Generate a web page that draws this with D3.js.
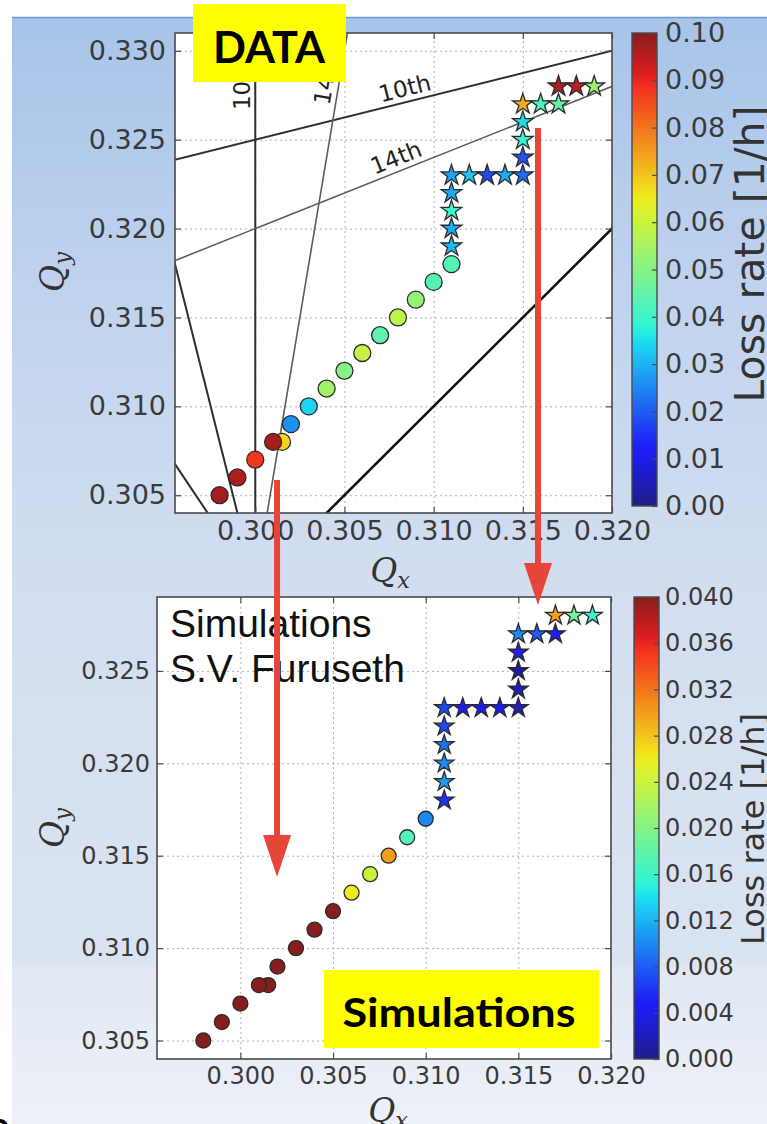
<!DOCTYPE html>
<html>
<head>
<meta charset="utf-8">
<script src="https://cdn.jsdelivr.net/npm/d3@7"></script>
<style>
  body { margin: 0; background: #fff; }
  svg { display: block; }
</style>
</head>
<body>
<svg id="chart" width="767" height="1124"></svg>
<script>
// ---- DATA ----
// measured tunes, round markers
const dataCircleQx   = [0.298, 0.299, 0.300, 0.3015, 0.301, 0.302, 0.303, 0.304, 0.305, 0.306, 0.307, 0.308, 0.309, 0.310, 0.311];
const dataCircleQy   = [0.305, 0.306, 0.307, 0.308, 0.308, 0.309, 0.310, 0.311, 0.312, 0.313, 0.314, 0.315, 0.316, 0.317, 0.318];
const dataCircleLoss = [0.097, 0.096, 0.088, 0.068, 0.097, 0.026, 0.034, 0.054, 0.050, 0.059, 0.044, 0.058, 0.052, 0.043, 0.043];
// measured tunes, star markers
const dataStarQx   = [0.311, 0.311, 0.311, 0.311, 0.311, 0.312, 0.313, 0.314, 0.315, 0.315, 0.315, 0.315, 0.315, 0.316, 0.317, 0.317, 0.318, 0.319];
const dataStarQy   = [0.319, 0.320, 0.321, 0.322, 0.323, 0.323, 0.323, 0.323, 0.323, 0.324, 0.325, 0.326, 0.327, 0.327, 0.327, 0.328, 0.328, 0.328];
const dataStarLoss = [0.031, 0.029, 0.040, 0.029, 0.028, 0.032, 0.018, 0.029, 0.022, 0.019, 0.039, 0.035, 0.073, 0.042, 0.045, 0.096, 0.094, 0.053];

// simulated tunes
const simCircleQx   = [0.298, 0.299, 0.300, 0.3015, 0.301, 0.302, 0.303, 0.304, 0.305, 0.306, 0.307, 0.308, 0.309, 0.310];
const simCircleQy   = [0.305, 0.306, 0.307, 0.308, 0.308, 0.309, 0.310, 0.311, 0.312, 0.313, 0.314, 0.315, 0.316, 0.317];
const simCircleLoss = [0.040, 0.040, 0.040, 0.040, 0.040, 0.040, 0.040, 0.040, 0.040, 0.026, 0.024, 0.030, 0.017, 0.010];
const simStarQx   = [0.311, 0.311, 0.311, 0.311, 0.311, 0.311, 0.312, 0.313, 0.314, 0.315, 0.315, 0.315, 0.315, 0.315, 0.316, 0.317, 0.317, 0.318, 0.319];
const simStarQy   = [0.318, 0.319, 0.320, 0.321, 0.322, 0.323, 0.323, 0.323, 0.323, 0.323, 0.324, 0.325, 0.326, 0.327, 0.327, 0.327, 0.328, 0.328, 0.328];
const simStarLoss = [0.006, 0.011, 0.010, 0.009, 0.007, 0.007, 0.005, 0.004, 0.004, 0.002, 0.002, 0.001, 0.005, 0.010, 0.008, 0.005, 0.030, 0.019, 0.016];

// resonance lines a*Qx + b*Qy = c
const resA     = [1, 1, 4, 3, 6, 2, 1];
const resB     = [0, -4, 1, 2, -1, -5, -1];
const resC     = [0.3, -1, 1.5, 1.5, 1.5, -1, 0];
const resOrder = [10, 10, 10, 10, 14, 14, 0];
// labels on resonance lines: which line, text, where along it (Qy for the vertical one, Qx otherwise)
const resLabelLine = [0, 1, 4, 5];
const resLabelText = ["10th", "10th", "14th", "14th"];
const resLabelAt   = [0.32815, 0.30857, 0.30472, 0.30818];

// ticks
const tuneTicksX  = [0.300, 0.305, 0.310, 0.315, 0.320];
const tuneTicksY  = [0.305, 0.310, 0.315, 0.320, 0.325, 0.330];
const dataCbTicks = d3.range(0, 0.1001, 0.01);
const simCbTicks  = d3.range(0, 0.0401, 0.004);

// ---- setup ----
const svg = d3.select("#chart");
const defs = svg.append("defs");

// page background (slide panel)
const bg = defs.append("linearGradient").attr("id", "bg").attr("x1", 0).attr("y1", 0).attr("x2", 0).attr("y2", 1);
[[0, "#a7c4e9"], [0.25, "#c0d3ee"], [0.5, "#d2def0"], [0.85, "#dae3f0"], [0.86, "#e1e8f3"], [1, "#edf1f8"]]
  .forEach(s => bg.append("stop").attr("offset", s[0]).attr("stop-color", s[1]));
svg.append("rect").attr("x", 12).attr("y", 17).attr("width", 755).attr("height", 1107).attr("fill", "url(#bg)");
svg.append("line").attr("x1", 12).attr("x2", 767).attr("y1", 17.5).attr("y2", 17.5)
  .attr("stroke", "#6b98d6").attr("stroke-width", 1.5);

// jet colour map, a little washed out like the screenshot
const jr = d3.scaleLinear().domain([0, 0.35, 0.66, 0.89, 1]).range([0, 0, 1, 1, 0.5]).clamp(true);
const jg = d3.scaleLinear().domain([0, 0.125, 0.375, 0.64, 0.91, 1]).range([0, 0, 1, 1, 0, 0]).clamp(true);
const jb = d3.scaleLinear().domain([0, 0.11, 0.34, 0.65, 1]).range([0.5, 1, 1, 0, 0]).clamp(true);
function jet(t) {
  const c = d3.rgb(jr(t) * 255, jg(t) * 255, jb(t) * 255);
  return d3.interpolateRgb(c, "#b4b4b4")(0.16);
}

const FONT = "'DejaVu Sans', sans-serif";

function panel(cfg) {
  const x = d3.scaleLinear().domain([0.2955, 0.320]).range([cfg.left, cfg.right]);
  const y = d3.scaleLinear().domain(cfg.yDomain).range([cfg.bottom, cfg.top]);
  const w = cfg.right - cfg.left, h = cfg.bottom - cfg.top;
  const g = svg.append("g");

  const clipId = "clip" + cfg.id;
  defs.append("clipPath").attr("id", clipId).append("rect")
    .attr("x", cfg.left).attr("y", cfg.top).attr("width", w).attr("height", h);

  g.append("rect").attr("x", cfg.left).attr("y", cfg.top).attr("width", w).attr("height", h).attr("fill", "#fff");

  // dotted grid
  g.append("g").attr("transform", `translate(0,${cfg.bottom})`)
    .call(d3.axisBottom(x).tickValues(tuneTicksX).tickSize(-h).tickFormat(""))
    .call(a => a.select(".domain").remove())
    .selectAll("line").attr("stroke", "#b0b0b0").attr("stroke-dasharray", "2,3");
  g.append("g").attr("transform", `translate(${cfg.left},0)`)
    .call(d3.axisLeft(y).tickValues(tuneTicksY.filter(v => v <= cfg.yDomain[1])).tickSize(-w).tickFormat(""))
    .call(a => a.select(".domain").remove())
    .selectAll("line").attr("stroke", "#b0b0b0").attr("stroke-dasharray", "2,3");

  // resonance lines
  if (cfg.resonances) {
    const rl = g.append("g").attr("clip-path", `url(#${clipId})`);
    resA.forEach((a, i) => {
      const b = resB[i], c = resC[i];
      let p;
      if (b === 0) p = [[c / a, 0.30], [c / a, 0.335]];
      else p = [0.29, 0.325].map(q => [q, (c - a * q) / b]);
      rl.append("line")
        .attr("x1", x(p[0][0])).attr("y1", y(p[0][1]))
        .attr("x2", x(p[1][0])).attr("y2", y(p[1][1]))
        .attr("stroke", resOrder[i] === 14 ? "#5c5c5c" : (resOrder[i] === 0 ? "#111" : "#2e2e2e"))
        .attr("stroke-width", resOrder[i] === 14 ? 1.6 : (resOrder[i] === 0 ? 2.6 : 2));
    });
    resLabelLine.forEach((li, k) => {
      const a = resA[li], b = resB[li], c = resC[li];
      let q;
      if (b === 0) q = [c / a, resLabelAt[k]];
      else q = [resLabelAt[k], (c - a * resLabelAt[k]) / b];
      // direction of the line on screen, reading upwards / rightwards
      let d;
      if (b === 0) d = [0, -1];
      else {
        const q2 = q[0] + 0.001;
        d = [x(q2) - x(q[0]), y((c - a * q2) / b) - y(q[1])];
        if (d[1] > 0) d = [-d[0], -d[1]];
        if (Math.abs(d[0]) > Math.abs(d[1]) && d[0] < 0) d = [-d[0], -d[1]];
      }
      const ang = Math.atan2(d[1], d[0]) * 180 / Math.PI;
      rl.append("text")
        .attr("transform", `translate(${x(q[0])},${y(q[1])}) rotate(${ang})`)
        .attr("dy", "-0.25em").attr("text-anchor", "middle")
        .attr("font-family", FONT).attr("font-size", 23).attr("fill", "#222")
        .text(resLabelText[k]);
    });
  }

  // markers
  const mk = g.append("g").attr("clip-path", `url(#${clipId})`);
  cfg.circleQx.forEach((qx, i) => {
    mk.append("circle").attr("cx", x(qx)).attr("cy", y(cfg.circleQy[i])).attr("r", cfg.r)
      .attr("fill", jet(cfg.circleLoss[i] / cfg.maxLoss)).attr("stroke", "#2b2b2b").attr("stroke-width", 1.3);
  });
  const star = d3.symbol().type(d3.symbolStar).size(cfg.starSize);
  cfg.starQx.forEach((qx, i) => {
    mk.append("path").attr("d", star)
      .attr("transform", `translate(${x(qx)},${y(cfg.starQy[i])})`)
      .attr("fill", jet(cfg.starLoss[i] / cfg.maxLoss)).attr("stroke", "#2b2b2b").attr("stroke-width", 1.3);
  });

  // frame, ticks, labels
  g.append("rect").attr("x", cfg.left).attr("y", cfg.top).attr("width", w).attr("height", h)
    .attr("fill", "none").attr("stroke", "#4a4a4a").attr("stroke-width", 1.6);
  const yt = tuneTicksY.filter(v => v <= cfg.yDomain[1]);
  const style = (a, fs) => a.call(s => s.select(".domain").remove())
    .attr("font-family", FONT).attr("font-size", fs)
    .call(s => s.selectAll("text").attr("fill", "#3a3a3a"))
    .call(s => s.selectAll("line").attr("stroke", "#4a4a4a").attr("stroke-width", 1.2));
  g.append("g").attr("transform", `translate(${cfg.left},0)`)
    .call(d3.axisLeft(y).tickValues(yt).tickFormat(d3.format(".3f")).tickSize(-6).tickPadding(cfg.padY))
    .call(a => style(a, cfg.fs));
  g.append("g").attr("transform", `translate(${cfg.right},0)`)
    .call(d3.axisRight(y).tickValues(yt).tickFormat("").tickSize(-6))
    .call(a => style(a, cfg.fs));
  g.append("g").attr("transform", `translate(0,${cfg.bottom})`)
    .call(d3.axisBottom(x).tickValues(tuneTicksX).tickFormat(d3.format(".3f")).tickSize(-6).tickPadding(cfg.padX))
    .call(a => style(a, cfg.fs));
  g.append("g").attr("transform", `translate(0,${cfg.top})`)
    .call(d3.axisTop(x).tickValues(tuneTicksX).tickFormat("").tickSize(-6))
    .call(a => style(a, cfg.fs));

  // axis titles
  const qx = g.append("text").attr("x", cfg.qxPos[0]).attr("y", cfg.qxPos[1]).attr("text-anchor", "middle")
    .attr("font-family", "'DejaVu Serif', serif").attr("font-style", "italic").attr("font-size", cfg.titleFs).attr("fill", "#333");
  qx.append("tspan").text("Q");
  qx.append("tspan").attr("font-size", cfg.titleFs * 0.68).attr("dy", "0.25em").text("x");
  const qy = g.append("text").attr("transform", `translate(${cfg.qyPos[0]},${cfg.qyPos[1]}) rotate(-90)`).attr("text-anchor", "middle")
    .attr("font-family", "'DejaVu Serif', serif").attr("font-style", "italic").attr("font-size", cfg.titleFs).attr("fill", "#333");
  qy.append("tspan").text("Q");
  qy.append("tspan").attr("font-size", cfg.titleFs * 0.68).attr("dy", "0.25em").text("y");

  // colour bar
  const cb = cfg.cb;
  const cy = d3.scaleLinear().domain([0, cfg.maxLoss]).range([cb.bottom, cb.top]);
  const gid = "cbg" + cfg.id;
  const lg = defs.append("linearGradient").attr("id", gid).attr("x1", 0).attr("y1", 1).attr("x2", 0).attr("y2", 0);
  d3.range(0, 1.0001, 1 / 60).forEach(t => lg.append("stop").attr("offset", t).attr("stop-color", jet(t)));
  g.append("rect").attr("x", cb.left).attr("y", cb.top).attr("width", cb.right - cb.left).attr("height", cb.bottom - cb.top)
    .attr("fill", `url(#${gid})`).attr("stroke", "#4a4a4a").attr("stroke-width", 1.4);
  g.append("g").attr("transform", `translate(${cb.right},0)`)
    .call(d3.axisRight(cy).tickValues(cfg.cbTicks).tickFormat(d3.format(cfg.cbFormat)).tickSize(-5).tickPadding(cb.pad))
    .call(a => style(a, cb.fs));
  g.append("text").attr("transform", `translate(${cb.labelPos[0]},${cb.labelPos[1]}) rotate(-90)`)
    .attr("text-anchor", "middle").attr("font-family", FONT).attr("font-size", cb.labelFs).attr("fill", "#333")
    .text("Loss rate [1/h]");

  return { x, y, g };
}

const topPanel = panel({
  id: "top", left: 175, right: 612, top: 33, bottom: 513, yDomain: [0.304, 0.331],
  fs: 27, padX: 8, padY: 9, titleFs: 33, qxPos: [390, 582], qyPos: [64, 272],
  resonances: true, r: 8.5, starSize: 130, maxLoss: 0.10,
  circleQx: dataCircleQx, circleQy: dataCircleQy, circleLoss: dataCircleLoss,
  starQx: dataStarQx, starQy: dataStarQy, starLoss: dataStarLoss,
  cbTicks: dataCbTicks, cbFormat: ".2f",
  cb: { left: 632, right: 657, top: 33, bottom: 506, pad: 8, fs: 27, labelFs: 41, labelPos: [764, 254] }
});

const botPanel = panel({
  id: "bot", left: 157, right: 611, top: 597, bottom: 1059, yDomain: [0.304, 0.329],
  fs: 24, padX: 8, padY: 7, titleFs: 33, qxPos: [388, 1122], qyPos: [64, 828],
  resonances: false, r: 7.5, starSize: 118, maxLoss: 0.040,
  circleQx: simCircleQx, circleQy: simCircleQy, circleLoss: simCircleLoss,
  starQx: simStarQx, starQy: simStarQy, starLoss: simStarLoss,
  cbTicks: simCbTicks, cbFormat: ".3f",
  cb: { left: 634, right: 659, top: 597, bottom: 1059, pad: 6, fs: 24, labelFs: 32, labelPos: [764, 829] }
});

// in-plot note of the simulation panel
const note = botPanel.g.append("text").attr("font-family", "'Liberation Sans', Arial, sans-serif").attr("font-size", 39).attr("fill", "#111");
note.append("tspan").attr("x", 170).attr("y", 637).text("Simulations");
note.append("tspan").attr("x", 170).attr("y", 682).text("S.V. Furuseth");

// red arrows: from the measured panel to the simulated one
const arrowFrom = [[0.30122, 0.30586], [0.31585, 0.32566]];
const arrowTo   = [[0.30198, 0.31385], [0.31606, 0.32857]];
const ag = svg.append("g");
arrowFrom.forEach((f, i) => {
  const x0 = topPanel.x(f[0]), y0 = topPanel.y(f[1]);
  const x1 = botPanel.x(arrowTo[i][0]), y1 = botPanel.y(arrowTo[i][1]);
  const len = Math.hypot(x1 - x0, y1 - y0), ux = (x1 - x0) / len, uy = (y1 - y0) / len;
  const hl = 42, hw = 14;
  const bx = x1 - ux * hl, by = y1 - uy * hl;
  ag.append("line").attr("x1", x0).attr("y1", y0).attr("x2", bx).attr("y2", by)
    .attr("stroke", "#e8453a").attr("stroke-width", 6);
  ag.append("path")
    .attr("d", `M${x1},${y1}L${bx - uy * hw},${by + ux * hw}L${bx + uy * hw},${by - ux * hw}Z`)
    .attr("fill", "#e8453a");
});

// yellow stickers
svg.append("rect").attr("x", 193).attr("y", 4).attr("width", 153).attr("height", 78).attr("fill", "#ffff00");
svg.append("text").attr("x", 269).attr("y", 63).attr("text-anchor", "middle")
  .attr("font-family", "Lato, 'Open Sans', sans-serif").attr("font-weight", "bold").attr("font-size", 44)
  .attr("textLength", 112).attr("lengthAdjust", "spacingAndGlyphs").attr("fill", "#000").text("DATA");
svg.append("rect").attr("x", 324).attr("y", 970).attr("width", 275).attr("height", 78).attr("fill", "#ffff00");
svg.append("text").attr("x", 459).attr("y", 1027).attr("text-anchor", "middle")
  .attr("font-family", "Lato, 'Open Sans', sans-serif").attr("font-weight", "bold").attr("font-size", 40)
  .attr("textLength", 233).attr("lengthAdjust", "spacingAndGlyphs").attr("fill", "#000").text("Simulations");

// stray letter cut by the slide edge
svg.append("text").attr("x", -12).attr("y", 1140).attr("font-family", "Lato, sans-serif").attr("font-weight", "bold")
  .attr("font-size", 40).attr("fill", "#000").text("e");
</script>
</body>
</html>
